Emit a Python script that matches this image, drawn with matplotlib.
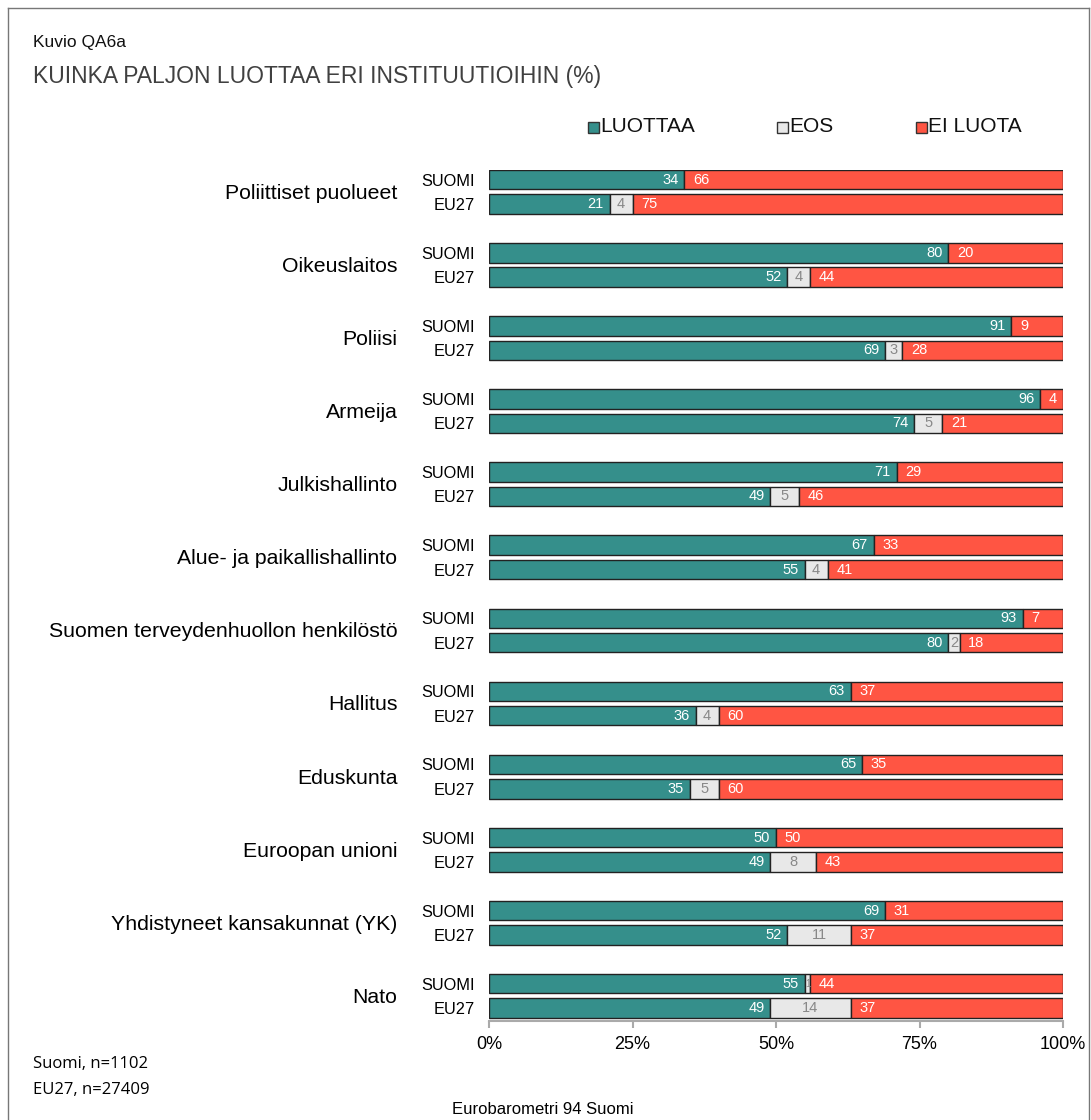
import matplotlib
matplotlib.use("Agg")
import matplotlib.pyplot as plt
from matplotlib.patches import Rectangle
from matplotlib.lines import Line2D
import numpy as np

categories = ["Poliittiset puolueet", "Oikeuslaitos", "Poliisi", "Armeija", "Julkishallinto",
              "Alue- ja paikallishallinto", "Suomen terveydenhuollon henkilöstö", "Hallitus",
              "Eduskunta", "Euroopan unioni", "Yhdistyneet kansakunnat (YK)", "Nato"]
rows = ["SUOMI", "EU27"]
suomi_luottaa = [34, 80, 91, 96, 71, 67, 93, 63, 65, 50, 69, 55]
suomi_eos     = [0, 0, 0, 0, 0, 0, 0, 0, 0, 0, 0, 1]
suomi_ei      = [66, 20, 9, 4, 29, 33, 7, 37, 35, 50, 31, 44]
eu_luottaa    = [21, 52, 69, 74, 49, 55, 80, 36, 35, 49, 52, 49]
eu_eos        = [4, 4, 3, 5, 5, 4, 2, 4, 5, 8, 11, 14]
eu_ei         = [75, 44, 28, 21, 46, 41, 18, 60, 60, 43, 37, 37]
series_names = ["LUOTTAA", "EOS", "EI LUOTA"]
xticks = [0, 25, 50, 75, 100]
xticklabels = ["0%", "25%", "50%", "75%", "100%"]

C_TEAL = "#358F8B"
C_GREY = "#E8E8E8"
C_RED = "#FF5543"
colors = [C_TEAL, C_GREY, C_RED]
plt.rcParams['font.family'] = ["Liberation Sans", "DejaVu Sans"]

W, H = 1091, 1120
fig = plt.figure(figsize=(W/100, H/100), dpi=100)
ax = fig.add_axes([489/W, 1-1021/H, (1063-489)/W, (1021-170)/H])

n = len(categories)
ypos_s = np.arange(n) * 3.0
ypos_e = ypos_s + 1.0
bh = 0.8

def draw(ypos, lu, eo, ei):
    for y, a, b, c in zip(ypos, lu, eo, ei):
        vals = [a, b, c]
        left = 0
        for k, v in enumerate(vals):
            if v > 0:
                ax.barh(y, v, left=left, height=bh, color=colors[k], edgecolor="#222222", linewidth=1.0)
            left += v
        ax.text(a - 1.0, y, str(a), ha="right", va="center", color="white", fontsize=10.5)
        if b > 0:
            ax.text(a + b/2, y, str(b), ha="center", va="center", color="#888888",
                    fontsize=10.5 if b > 1 else 7)
        ax.text(a + b + 1.5, y, str(c), ha="left", va="center", color="white", fontsize=10.5)

draw(ypos_s, suomi_luottaa, suomi_eos, suomi_ei)
draw(ypos_e, eu_luottaa, eu_eos, eu_ei)

ax.set_xlim(0, 100)
ax.set_ylim(ypos_e[-1] + 0.53, -0.4)
ax.set_yticks(list(ypos_s) + list(ypos_e))
ax.set_yticklabels([rows[0]] * n + [rows[1]] * n, fontsize=11.8)
ax.tick_params(axis="y", length=0, pad=10)
ax.set_xticks(xticks)
ax.set_xticklabels(xticklabels, fontsize=13)
ax.tick_params(axis="x", length=5, color="#AAAAAA", width=1.5, pad=6)
for s in ["top", "right", "left"]:
    ax.spines[s].set_visible(False)
ax.spines["bottom"].set_color("#AAAAAA")
ax.spines["bottom"].set_linewidth(1.5)

for i, cat in enumerate(categories):
    ymid = (ypos_s[i] + ypos_e[i]) / 2
    ax.annotate(cat, xy=(0, ymid), xycoords="data", xytext=(-66, -1), textcoords="offset points",
                ha="right", va="center", fontsize=15.3)

fig.text(33/W, 1-42/H, "Kuvio QA6a", ha="left", va="center", fontsize=12.5, color="#111111")
fig.text(33/W, 1-77/H, "KUINKA PALJON LUOTTAA ERI INSTITUUTIOIHIN (%)", ha="left", va="center",
         fontsize=16.5, color="#404040")

leg_x = [588, 777, 916]
for hx, name, c in zip(leg_x, series_names, colors):
    fig.patches.append(Rectangle((hx/W, 1-133/H), 11/W, 11/H, transform=fig.transFigure,
                                 facecolor=c, edgecolor="#333333", linewidth=1))
    fig.text((hx+12)/W, 1-127/H, name, ha="left", va="center", fontsize=15, color="#111111")

fig.text(33/W, 1-1064/H, "Suomi, n=1102", ha="left", va="center", fontsize=12, family=["Open Sans", "DejaVu Sans"])
fig.text(33/W, 1-1090/H, "EU27, n=27409", ha="left", va="center", fontsize=12, family=["Open Sans", "DejaVu Sans"])
fig.text(452/W, 1-1109/H, "Eurobarometri 94 Suomi", ha="left", va="center", fontsize=12)

fig.add_artist(Line2D([8/W, 1089/W], [1-8/H, 1-8/H], transform=fig.transFigure, color="#777777", linewidth=1))
fig.add_artist(Line2D([8/W, 8/W], [1-8/H, 0], transform=fig.transFigure, color="#777777", linewidth=1))
fig.add_artist(Line2D([1089/W, 1089/W], [1-8/H, 0], transform=fig.transFigure, color="#777777", linewidth=1))

fig.savefig("out.png", dpi=100, facecolor="white")
